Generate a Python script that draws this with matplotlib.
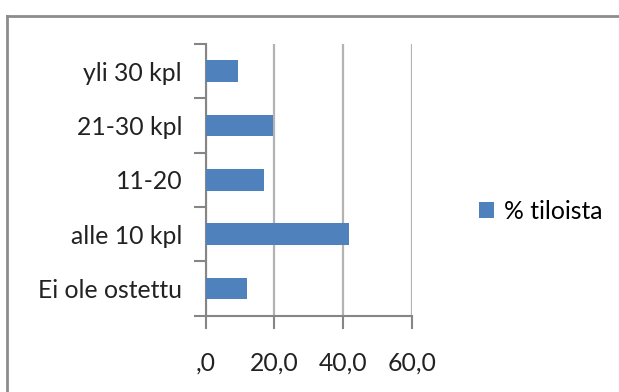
import matplotlib.pyplot as plt
from matplotlib.lines import Line2D
import numpy as np

categories = ["Ei ole ostettu", "alle 10 kpl", "11-20", "21-30 kpl", "yli 30 kpl"]
values = [12.1, 41.7, 17.0, 19.6, 9.5]
xticks = [0, 20, 40, 60]
xtick_labels = [",0", "20,0", "40,0", "60,0"]
series_name = "% tiloista"

plt.rcParams['font.family'] = ['Lato', 'DejaVu Sans']
bar_color = '#4F81BD'
axis_gray = '#868686'
grid_gray = '#b3b3b3'
fs = 17.8

fig = plt.figure(figsize=(6.19, 3.92), dpi=100)
ax = fig.add_axes([0.3323, 0.1946, 0.3333, 0.6932])

y = np.arange(len(categories))
ax.barh(y, values, height=0.4, color=bar_color, label=series_name, zorder=3)

ax.set_xlim(0, 60)
ax.set_ylim(-0.5, len(categories) - 0.5)
ax.set_xticks(xticks)
ax.set_xticklabels(xtick_labels, fontsize=fs, color='#222222')
ax.tick_params(axis='x', length=9, width=1.5, color=axis_gray, pad=17)

# category labels on band centers, tick marks on band edges
ax.set_yticks(y)
ax.set_yticklabels(categories, fontsize=fs, color='#222222')
ax.tick_params(axis='y', which='major', length=0, pad=17)
ax.set_yticks(np.arange(len(categories) + 1) - 0.5, minor=True)
ax.tick_params(axis='y', which='minor', length=9, width=1.5, color=axis_gray)

ax.grid(axis='x', color=grid_gray, linewidth=1.6, zorder=0)
for side in ['top', 'right']:
    ax.spines[side].set_visible(False)
for side in ['left', 'bottom']:
    ax.spines[side].set_color(axis_gray)
    ax.spines[side].set_linewidth(1.5)

ax.legend(loc='center left', bbox_to_anchor=(1.325, 0.385), frameon=False,
          fontsize=fs, handlelength=0.6, handleheight=0.6, handletextpad=0.4,
          borderpad=0, borderaxespad=0)

# outer chart border
bx = 6.5 / 619
by = 1 - 15.5 / 392
fig.add_artist(Line2D([bx, bx], [0, by], color='#8c8c8c', linewidth=2))
fig.add_artist(Line2D([bx, 1], [by, by], color='#8c8c8c', linewidth=2))

fig.savefig("out.png", dpi=100)
